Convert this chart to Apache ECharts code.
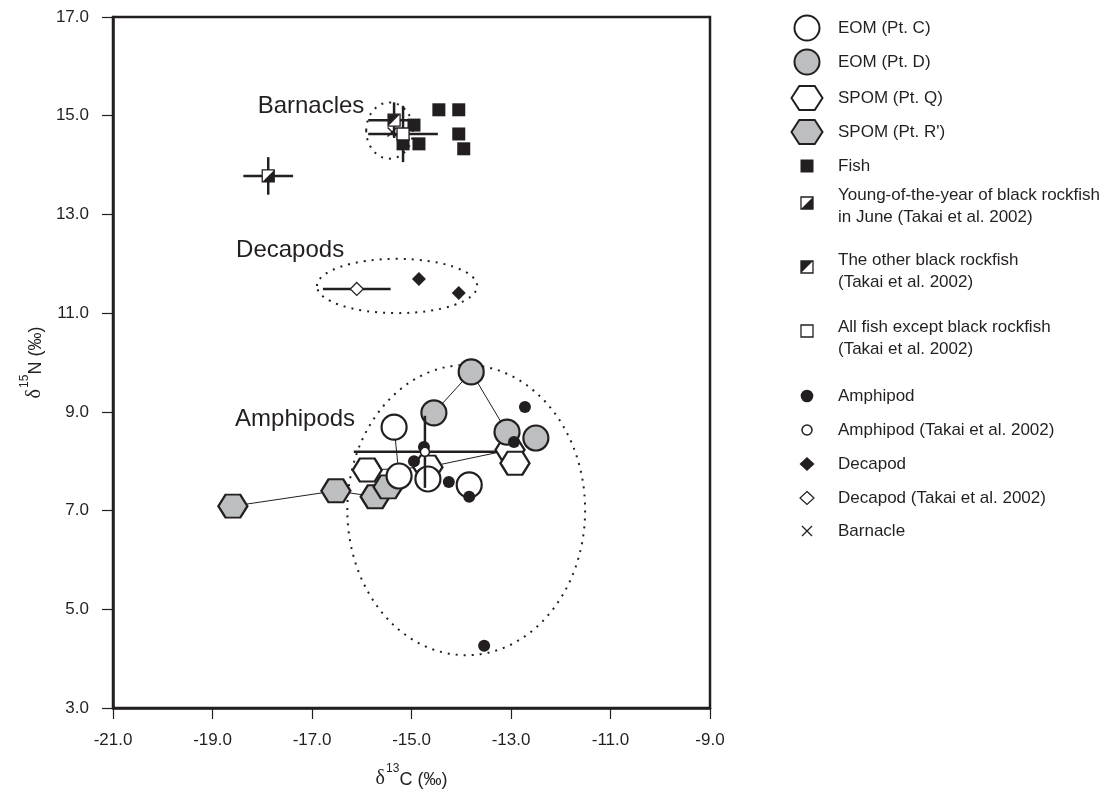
<!DOCTYPE html>
<html>
<head>
<meta charset="utf-8">
<script src="https://cdn.jsdelivr.net/npm/echarts@6/dist/echarts.min.js"></script>
<style>
  html, body { margin: 0; padding: 0; background: #fff; }
  #chart { width: 1112px; height: 791px; }
</style>
</head>
<body>
<div id="chart"></div>
<script>
// ---- data (δ13C, δ15N) ----
// EOM (Pt. C)
const eomCX = [-15.35, -15.25, -14.67, -13.84];
const eomCY = [8.69, 7.70, 7.64, 7.52];
const eomCLink = [0, 1];
// EOM (Pt. D)
const eomDX = [-14.55, -13.80, -13.08, -12.50];
const eomDY = [8.98, 9.81, 8.59, 8.47];
const eomDLink = [0, 1, 2];
// SPOM (Pt. Q)
const spomQX = [-15.89, -14.67, -13.02, -12.92];
const spomQY = [7.82, 7.88, 8.23, 7.96];
const spomQLink = [0, 1, 2];
// SPOM (Pt. R')
const spomRX = [-18.59, -16.52, -15.73, -15.47];
const spomRY = [7.09, 7.40, 7.28, 7.48];
const spomRLink = [0, 1, 2, 3];
// Fish
const fishX = [-14.45, -14.05, -14.05, -13.95, -14.85, -14.95, -15.17];
const fishY = [15.12, 15.12, 14.63, 14.33, 14.43, 14.81, 14.43];
// Amphipod
const amphX = [-12.72, -14.75, -12.94, -14.95, -14.25, -13.84, -13.54];
const amphY = [9.10, 8.29, 8.39, 8.00, 7.58, 7.28, 4.26];
// Decapod
const decX = [-14.85, -14.05];
const decY = [11.69, 11.41];
// Barnacle
const barnX = [-15.39];
const barnY = [14.67];
// Takai et al. 2002 means ± SD
// 0 young-of-the-year, 1 other black rockfish, 2 all fish except black rockfish, 3 decapod, 4 amphipod
const takaiX = [-17.88, -15.35, -15.17, -16.10, -14.73];
const takaiY = [13.78, 14.91, 14.63, 11.49, 8.19];
const takaiSdX = [0.50, 0.52, 0.70, 0.68, 1.43];
const takaiSdY = [0.38, 0.36, 0.57, 0, 0.73];
// group ellipses: centre x, centre y, radius x, radius y
const ellipseX = [-15.44, -15.29, -13.90];
const ellipseY = [14.70, 11.55, 7.01];
const ellipseRx = [0.47, 1.61, 2.39];
const ellipseRy = [0.57, 0.55, 2.94];
// group labels
const groupNames = ['Barnacles', 'Decapods', 'Amphipods'];
const groupX = [-17.02, -17.44, -17.34];
const groupY = [15.18, 12.28, 8.84];

const INK = '#231f20';
const GREY = '#bcbec0';
const FONT = '"Liberation Sans", Arial, Helvetica, sans-serif';
const HEX = 'path://M0,6.5 L3.7,0 L11.3,0 L15,6.5 L11.3,13 L3.7,13 Z';

const pts = (xs, ys) => xs.map((x, i) => [x, ys[i]]);
const link = (xs, ys, idx) => idx.map(i => [xs[i], ys[i]]);

function linkSeries(data) {
  return {
    type: 'line', data: data, showSymbol: false, symbol: 'none', silent: true,
    lineStyle: { color: INK, width: 1 }, z: 2
  };
}

function scatter(data, symbol, size, fill, border, z) {
  return {
    type: 'scatter', data: data, symbol: symbol, symbolSize: size, silent: true, z: z,
    itemStyle: { color: fill, borderColor: INK, borderWidth: border, opacity: 1 }
  };
}

function renderEllipse(params, api) {
  const c = api.coord([api.value(0), api.value(1)]);
  const s = api.size([api.value(2), api.value(3)]);
  return {
    type: 'ellipse',
    shape: { cx: c[0], cy: c[1], rx: s[0], ry: s[1] },
    style: { fill: null, stroke: INK, lineWidth: 2, lineDash: [2, 6] }
  };
}

function renderErrorBar(params, api) {
  const x = api.value(0), y = api.value(1), ex = api.value(2), ey = api.value(3);
  const kids = [];
  const st = { stroke: INK, lineWidth: 2.5 };
  if (ex > 0) {
    const l = api.coord([x - ex, y]), r = api.coord([x + ex, y]);
    kids.push({ type: 'line', shape: { x1: l[0], y1: l[1], x2: r[0], y2: r[1] }, style: st });
  }
  if (ey > 0) {
    const t = api.coord([x, y + ey]), b = api.coord([x, y - ey]);
    kids.push({ type: 'line', shape: { x1: t[0], y1: t[1], x2: b[0], y2: b[1] }, style: st });
  }
  return { type: 'group', children: kids };
}

// half-black square: corner 'lr' = black lower-right, 'ul' = black upper-left
function halfSquare(cx, cy, h, corner) {
  const tri = corner === 'lr'
    ? [[cx + h, cy - h], [cx + h, cy + h], [cx - h, cy + h]]
    : [[cx - h, cy - h], [cx + h, cy - h], [cx - h, cy + h]];
  return [
    { type: 'rect', shape: { x: cx - h, y: cy - h, width: 2 * h, height: 2 * h }, style: { fill: '#fff', stroke: INK, lineWidth: 1.3 } },
    { type: 'polygon', shape: { points: tri }, style: { fill: INK } }
  ];
}

function renderHalf(corner) {
  return function (params, api) {
    const c = api.coord([api.value(0), api.value(1)]);
    return { type: 'group', children: halfSquare(c[0], c[1], 6, corner) };
  };
}

function renderCross(params, api) {
  const c = api.coord([api.value(0), api.value(1)]);
  const h = 4.5;
  const st = { stroke: INK, lineWidth: 1.3 };
  return {
    type: 'group', children: [
      { type: 'line', shape: { x1: c[0] - h, y1: c[1] - h, x2: c[0] + h, y2: c[1] + h }, style: st },
      { type: 'line', shape: { x1: c[0] - h, y1: c[1] + h, x2: c[0] + h, y2: c[1] - h }, style: st }
    ]
  };
}

function renderLabel(params, api) {
  const c = api.coord([api.value(0), api.value(1)]);
  return {
    type: 'text', x: c[0], y: c[1],
    style: { text: groupNames[params.dataIndex], font: '24px ' + FONT, fill: INK, align: 'center', verticalAlign: 'middle' }
  };
}

// ---- legend (drawn with graphic) ----
const legendItems = [
  { kind: 'circleOpen', text: 'EOM (Pt. C)', y: 28 },
  { kind: 'circleGrey', text: 'EOM (Pt. D)', y: 62 },
  { kind: 'hexOpen', text: 'SPOM (Pt. Q)', y: 98 },
  { kind: 'hexGrey', text: "SPOM (Pt. R')", y: 132 },
  { kind: 'square', text: 'Fish', y: 166 },
  { kind: 'halfLR', text: 'Young-of-the-year of black rockfish\nin June (Takai et al. 2002)', y: 206, iy: 203 },
  { kind: 'halfUL', text: 'The other black rockfish\n(Takai et al. 2002)', y: 271, iy: 267 },
  { kind: 'squareOpen', text: 'All fish except black rockfish\n(Takai et al. 2002)', y: 338, iy: 331 },
  { kind: 'dot', text: 'Amphipod', y: 396 },
  { kind: 'dotOpen', text: 'Amphipod (Takai et al. 2002)', y: 430 },
  { kind: 'diamond', text: 'Decapod', y: 464 },
  { kind: 'diamondOpen', text: 'Decapod (Takai et al. 2002)', y: 498 },
  { kind: 'cross', text: 'Barnacle', y: 531 }
];

function hexPoints(cx, cy, w, h) {
  const a = w / 2, b = h / 2, k = w * 0.25;
  return [[cx - a, cy], [cx - a + k, cy - b], [cx + a - k, cy - b], [cx + a, cy], [cx + a - k, cy + b], [cx - a + k, cy + b]];
}

function legendIcon(kind, cx, cy) {
  switch (kind) {
    case 'circleOpen':
      return [{ type: 'circle', shape: { cx, cy, r: 12.5 }, style: { fill: '#fff', stroke: INK, lineWidth: 2 } }];
    case 'circleGrey':
      return [{ type: 'circle', shape: { cx, cy, r: 12.5 }, style: { fill: GREY, stroke: INK, lineWidth: 2 } }];
    case 'hexOpen':
      return [{ type: 'polygon', shape: { points: hexPoints(cx, cy, 31, 24) }, style: { fill: '#fff', stroke: INK, lineWidth: 2 } }];
    case 'hexGrey':
      return [{ type: 'polygon', shape: { points: hexPoints(cx, cy, 31, 24) }, style: { fill: GREY, stroke: INK, lineWidth: 2 } }];
    case 'square':
      return [{ type: 'rect', shape: { x: cx - 6.5, y: cy - 6.5, width: 13, height: 13 }, style: { fill: INK } }];
    case 'halfLR':
      return halfSquare(cx, cy, 6, 'lr');
    case 'halfUL':
      return halfSquare(cx, cy, 6, 'ul');
    case 'squareOpen':
      return [{ type: 'rect', shape: { x: cx - 6, y: cy - 6, width: 12, height: 12 }, style: { fill: '#fff', stroke: INK, lineWidth: 1.3 } }];
    case 'dot':
      return [{ type: 'circle', shape: { cx, cy, r: 6.3 }, style: { fill: INK } }];
    case 'dotOpen':
      return [{ type: 'circle', shape: { cx, cy, r: 5 }, style: { fill: '#fff', stroke: INK, lineWidth: 1.5 } }];
    case 'diamond':
      return [{ type: 'polygon', shape: { points: [[cx, cy - 7], [cx + 7.5, cy], [cx, cy + 7], [cx - 7.5, cy]] }, style: { fill: INK } }];
    case 'diamondOpen':
      return [{ type: 'polygon', shape: { points: [[cx, cy - 6.5], [cx + 7, cy], [cx, cy + 6.5], [cx - 7, cy]] }, style: { fill: '#fff', stroke: INK, lineWidth: 1.2 } }];
    case 'cross':
      return [
        { type: 'line', shape: { x1: cx - 5, y1: cy - 5, x2: cx + 5, y2: cy + 5 }, style: { stroke: INK, lineWidth: 1.3 } },
        { type: 'line', shape: { x1: cx - 5, y1: cy + 5, x2: cx + 5, y2: cy - 5 }, style: { stroke: INK, lineWidth: 1.3 } }
      ];
  }
  return [];
}

const legendGraphics = [];
legendItems.forEach(function (it) {
  legendIcon(it.kind, 807, it.iy || it.y).forEach(g => legendGraphics.push(g));
  legendGraphics.push({
    type: 'text', x: 838, y: it.y,
    style: { text: it.text, font: '17px ' + FONT, fill: INK, verticalAlign: 'middle', lineHeight: 22 }
  });
});

const takaiRows = takaiX.map((x, i) => [x, takaiY[i], takaiSdX[i], takaiSdY[i]]);
const takaiPt = i => [[takaiX[i], takaiY[i]]];

const nameRich = {
  d: { fontFamily: '"Liberation Serif", serif', fontSize: 20, color: INK, lineHeight: 26, verticalAlign: 'bottom' },
  s: { fontFamily: FONT, fontSize: 12, color: INK, lineHeight: 26, verticalAlign: 'top', padding: [0, 0, 0, 1] },
  n: { fontFamily: FONT, fontSize: 18, color: INK, lineHeight: 26, verticalAlign: 'bottom' }
};

const option = {
  animation: false,
  backgroundColor: '#fff',
  grid: { left: 113, right: 402, top: 17, bottom: 83, show: true, borderColor: INK, borderWidth: 2.5, outerBoundsMode: 'none' },
  xAxis: {
    type: 'value', min: -21, max: -9, interval: 2,
    name: '{d|δ}{s|13}{n|C (‰)}', nameLocation: 'middle', nameGap: 55,
    nameTextStyle: { rich: nameRich },
    axisLine: { show: true, lineStyle: { color: INK, width: 2.5 } },
    axisTick: { show: true, inside: false, length: 11, lineStyle: { color: INK, width: 1.2 } },
    axisLabel: { color: INK, fontFamily: FONT, fontSize: 17, margin: 24, formatter: v => v.toFixed(1) },
    splitLine: { show: false }
  },
  yAxis: {
    type: 'value', min: 3, max: 17, interval: 2,
    name: '{d|δ}{s|15}{n|N (‰)}', nameLocation: 'middle', nameGap: 67, nameRotate: 90,
    nameTextStyle: { rich: nameRich },
    axisLine: { show: true, lineStyle: { color: INK, width: 2.5 } },
    axisTick: { show: true, inside: false, length: 11, lineStyle: { color: INK, width: 1.2 } },
    axisLabel: { color: INK, fontFamily: FONT, fontSize: 17, margin: 24, formatter: v => v.toFixed(1) },
    splitLine: { show: false }
  },
  graphic: legendGraphics,
  series: [
    {
      type: 'custom', renderItem: renderEllipse, silent: true, z: 1,
      data: ellipseX.map((x, i) => [x, ellipseY[i], ellipseRx[i], ellipseRy[i]])
    },
    linkSeries(link(spomRX, spomRY, spomRLink)),
    linkSeries(link(spomQX, spomQY, spomQLink)),
    linkSeries(link(eomDX, eomDY, eomDLink)),
    linkSeries(link(eomCX, eomCY, eomCLink)),
    scatter(pts(spomRX, spomRY), HEX, [29, 23], GREY, 2.2, 3),
    scatter(pts(spomQX, spomQY), HEX, [29, 23], '#fff', 2.2, 3),
    scatter(pts(eomDX, eomDY), 'circle', 25, GREY, 2.2, 3),
    scatter(pts(eomCX, eomCY), 'circle', 25, '#fff', 2.2, 3),
    { type: 'custom', renderItem: renderErrorBar, silent: true, z: 4, data: takaiRows },
    scatter(pts(fishX, fishY), 'rect', 13, INK, 0, 5),
    scatter(pts(amphX, amphY), 'circle', 12, INK, 0, 5),
    scatter(takaiPt(4), 'circle', 9, '#fff', 1.5, 6),
    scatter(pts(decX, decY), 'diamond', [14, 14], INK, 0, 5),
    scatter(takaiPt(3), 'diamond', [13, 13], '#fff', 1.2, 6),
    scatter(takaiPt(2), 'rect', 12, '#fff', 1.3, 6),
    { type: 'custom', renderItem: renderHalf('lr'), silent: true, z: 6, data: takaiPt(0) },
    { type: 'custom', renderItem: renderHalf('ul'), silent: true, z: 6, data: takaiPt(1) },
    { type: 'custom', renderItem: renderCross, silent: true, z: 6, data: pts(barnX, barnY) },
    {
      type: 'custom', renderItem: renderLabel, silent: true, z: 7,
      data: groupX.map((x, i) => [x, groupY[i]])
    }
  ]
};

const chart = echarts.init(document.getElementById('chart'));
chart.setOption(option);
</script>
</body>
</html>
